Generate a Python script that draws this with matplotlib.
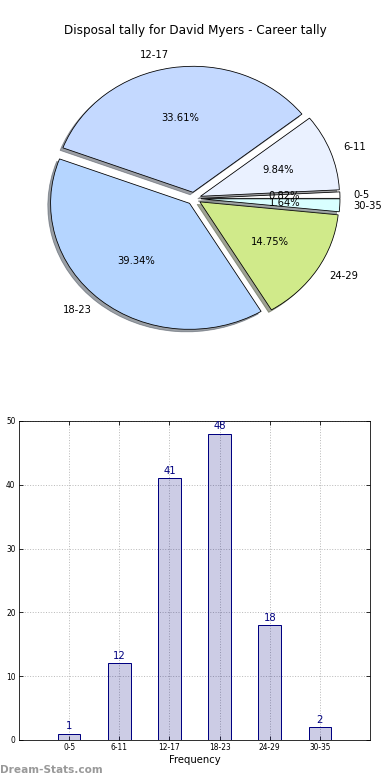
import numpy as np
import matplotlib
matplotlib.use("Agg")
import matplotlib.pyplot as plt

# Data
bins = ['0-5', '6-11', '12-17', '18-23', '24-29', '30-35']
counts = [1, 12, 41, 48, 18, 2]
pie_colors = ['#FFFFFF', '#EAF1FF', '#C4D9FF', '#B5D5FF', '#D0EA8A', '#D9FFFF']
explode = [0.05, 0.05, 0.05, 0.05, 0.05, 0.05]

fig = plt.figure(figsize=(390 / 72, 780 / 72), dpi=72)

# Pie chart (top)
ax1 = fig.add_axes([0.052, 0.5436, 0.891, 0.4038])
wedges, texts, autotexts = ax1.pie(counts, labels=bins, colors=pie_colors, explode=explode,
                                   autopct='%1.2f%%', shadow=True, startangle=0,
                                   wedgeprops={'edgecolor': 'black', 'linewidth': 0.8},
                                   textprops={'fontsize': 10})
ax1.set_aspect('auto')
ax1.set_xlim(-1.25, 1.25)
ax1.set_ylim(-1.25, 1.25)
fig.text(0.5, 0.961, 'Disposal tally for David Myers - Career tally', ha='center', va='center', fontsize=12)

# Bar chart (bottom)
ax2 = fig.add_axes([0.0487, 0.0513, 0.9, 0.409])
x = np.arange(len(bins))
ax2.grid(True, color='#BBBBBB', linestyle=':', linewidth=1)
ax2.set_axisbelow(True)
bars = ax2.bar(x, counts, width=0.45, facecolor=(0, 0, 0.5, 0.2), edgecolor='navy', linewidth=1)
for xi, c in zip(x, counts):
    ax2.text(xi, c + 0.4, str(c), ha='center', va='bottom', color='navy', fontsize=10)
ax2.set_xlim(-1, 6)
ax2.set_ylim(0, 50)
ax2.set_xticks(x)
ax2.set_xticklabels(bins, fontsize=7.5)
ax2.set_yticks([0, 10, 20, 30, 40, 50])
ax2.tick_params(axis='y', labelsize=7.5)
ax2.tick_params(direction='in', top=True, right=True, length=4)
ax2.set_xlabel('Frequency', fontsize=10, labelpad=3)

fig.text(0.0, 0.006, 'Dream-Stats.com', color='#999999', fontsize=10.5, fontweight='bold', ha='left', va='bottom')

fig.savefig('out.png', dpi=72)
